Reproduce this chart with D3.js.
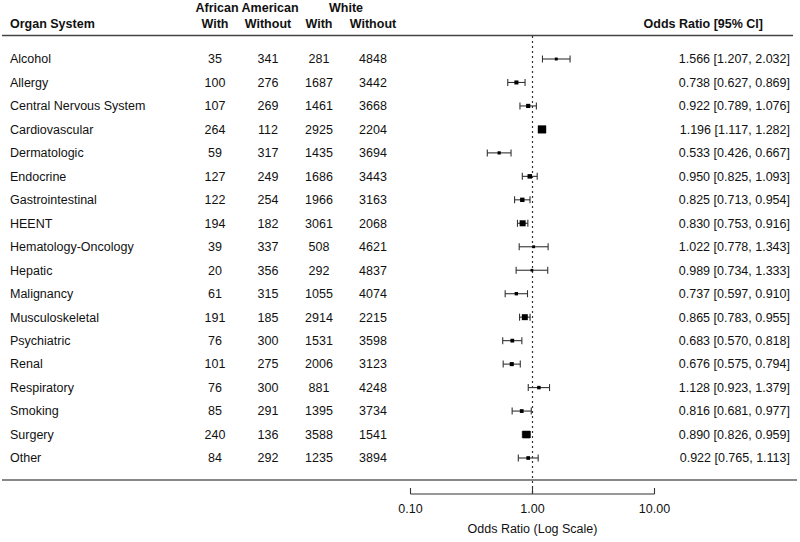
<!DOCTYPE html>
<html><head><meta charset="utf-8">
<script src="https://cdn.jsdelivr.net/npm/d3@7"></script>
<style>body{margin:0;background:#fff;} svg{display:block;font-family:"Liberation Sans",Arial,sans-serif;}</style>
</head><body><div id="chart"></div>
<script>
const categories = ["Alcohol","Allergy","Central Nervous System","Cardiovascular","Dermatologic","Endocrine","Gastrointestinal","HEENT","Hematology-Oncology","Hepatic","Malignancy","Musculoskeletal","Psychiatric","Renal","Respiratory","Smoking","Surgery","Other"];
const aaWith =    [35,100,107,264,59,127,122,194,39,20,61,191,76,101,76,85,240,84];
const aaWithout = [341,276,269,112,317,249,254,182,337,356,315,185,300,275,300,291,136,292];
const whWith =    [281,1687,1461,2925,1435,1686,1966,3061,508,292,1055,2914,1531,2006,881,1395,3588,1235];
const whWithout = [4848,3442,3668,2204,3694,3443,3163,2068,4621,4837,4074,2215,3598,3123,4248,3734,1541,3894];
const oddsRatio = [1.566,0.738,0.922,1.196,0.533,0.950,0.825,0.830,1.022,0.989,0.737,0.865,0.683,0.676,1.128,0.816,0.890,0.922];
const ciLower =   [1.207,0.627,0.789,1.117,0.426,0.825,0.713,0.753,0.778,0.734,0.597,0.783,0.570,0.575,0.923,0.681,0.826,0.765];
const ciUpper =   [2.032,0.869,1.076,1.282,0.667,1.093,0.954,0.916,1.343,1.333,0.910,0.955,0.818,0.794,1.379,0.977,0.959,1.113];
const axisTicks = [0.1, 1, 10];
const axisTickLabels = ["0.10","1.00","10.00"];

const W = 800, H = 542;
const svg = d3.select("#chart").append("svg").attr("width", W).attr("height", H);
const fs = 12.5;

const x = d3.scaleLog().domain([0.1, 10]).range([410.5, 654.5]);
const y = d3.scalePoint().domain(categories).range([59, 458]);

const cols = [
  {x: 215, vals: aaWith}, {x: 268, vals: aaWithout},
  {x: 319, vals: whWith}, {x: 373, vals: whWithout}
];

// header
const hdr = svg.append("g").attr("font-weight", "bold").attr("font-size", fs).attr("fill", "#111");
hdr.append("text").attr("x", 10).attr("y", 24).attr("dy", "0.35em").text("Organ System");
hdr.append("text").attr("x", 247).attr("y", 8).attr("dy", "0.35em").attr("text-anchor", "middle").text("African American");
hdr.append("text").attr("x", 346).attr("y", 8).attr("dy", "0.35em").attr("text-anchor", "middle").text("White");
["With","Without","With","Without"].forEach((t, i) => {
  hdr.append("text").attr("x", cols[i].x).attr("y", 24).attr("dy", "0.35em").attr("text-anchor", "middle").text(t);
});
hdr.append("text").attr("x", 763).attr("y", 24).attr("dy", "0.35em").attr("text-anchor", "end").text("Odds Ratio [95% CI]");

// separator lines
svg.append("line").attr("x1", 2).attr("x2", 793).attr("y1", 35.5).attr("y2", 35.5).attr("stroke", "#444").attr("stroke-width", 1.5);
svg.append("line").attr("x1", 2).attr("x2", 797).attr("y1", 480).attr("y2", 480).attr("stroke", "#888").attr("stroke-width", 2);

// reference line at OR = 1
svg.append("line").attr("x1", x(1)).attr("x2", x(1)).attr("y1", 36).attr("y2", 494)
  .attr("stroke", "#333").attr("stroke-width", 1.2).attr("stroke-dasharray", "2,3");

// rows
const rows = svg.append("g").attr("font-size", fs).attr("fill", "#111");
categories.forEach((c, i) => {
  const yy = y(c);
  rows.append("text").attr("x", 10).attr("y", yy).attr("dy", "0.35em").text(c);
  cols.forEach(col => {
    rows.append("text").attr("x", col.x).attr("y", yy).attr("dy", "0.35em").attr("text-anchor", "middle").text(col.vals[i]);
  });
  rows.append("text").attr("x", 790).attr("y", yy).attr("dy", "0.35em").attr("text-anchor", "end")
    .text(`${oddsRatio[i].toFixed(3)} [${ciLower[i].toFixed(3)}, ${ciUpper[i].toFixed(3)}]`);
});

// square sizes from inverse standard error (metafor-style)
const wi = categories.map((c, i) => 1 / ((Math.log(ciUpper[i]) - Math.log(ciLower[i])) / (2 * 1.96)));
const wmin = d3.min(wi), wmax = d3.max(wi);
const psize = wi.map(w => (w - wmin) / (wmax - wmin) + 0.5);
const base = 5.4;

const ci = svg.append("g");
categories.forEach((c, i) => {
  const yy = y(c);
  const g = ci.append("g").attr("stroke", "#333").attr("stroke-width", 1.1);
  g.append("line").attr("x1", x(ciLower[i])).attr("x2", x(ciUpper[i])).attr("y1", yy).attr("y2", yy);
  g.append("line").attr("x1", x(ciLower[i])).attr("x2", x(ciLower[i])).attr("y1", yy - 3.5).attr("y2", yy + 3.5);
  g.append("line").attr("x1", x(ciUpper[i])).attr("x2", x(ciUpper[i])).attr("y1", yy - 3.5).attr("y2", yy + 3.5);
  const s = base * psize[i];
  ci.append("rect").attr("x", x(oddsRatio[i]) - s / 2).attr("y", yy - s / 2).attr("width", s).attr("height", s).attr("fill", "#000");
});

// axis
const axisG = svg.append("g").attr("transform", "translate(0,494)");
axisG.append("line").attr("x1", x(0.1)).attr("x2", x(10)).attr("y1", 0).attr("y2", 0).attr("stroke", "#333").attr("stroke-width", 1.1);
axisTicks.forEach((t, i) => {
  axisG.append("line").attr("x1", x(t)).attr("x2", x(t)).attr("y1", 0).attr("y2", -6).attr("stroke", "#333").attr("stroke-width", 1.1);
  axisG.append("text").attr("x", x(t)).attr("y", 15).attr("dy", "0.35em").attr("text-anchor", "middle")
    .attr("font-size", fs).attr("fill", "#111").text(axisTickLabels[i]);
});
svg.append("text").attr("x", x(1)).attr("y", 529).attr("dy", "0.35em").attr("text-anchor", "middle")
  .attr("font-size", fs).attr("fill", "#111").text("Odds Ratio (Log Scale)");
</script>
</body></html>
